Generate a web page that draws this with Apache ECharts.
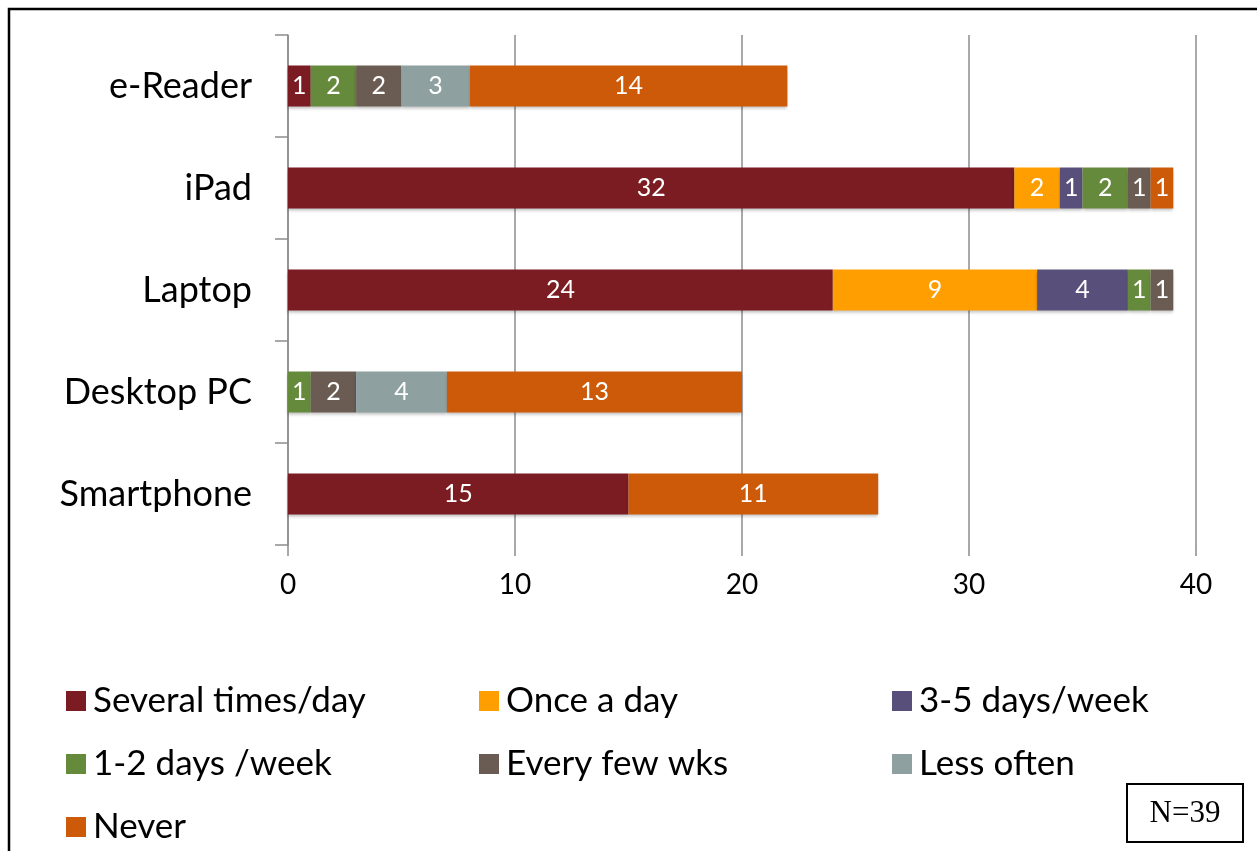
<!DOCTYPE html>
<html>
<head>
<meta charset="utf-8">
<script src="https://cdn.jsdelivr.net/npm/echarts@6/dist/echarts.min.js"></script>
<style>
  html, body { margin: 0; padding: 0; background: #fff; }
  #chart { width: 1257px; height: 851px; }
</style>
</head>
<body>
<div id="chart"></div>
<script>
const devices = ['e-Reader', 'iPad', 'Laptop', 'Desktop PC', 'Smartphone']

const severalTimesDay = [1, 32, 24, 0, 15]
const onceADay = [0, 2, 9, 0, 0]
const days35Week = [0, 1, 4, 0, 0]
const days12Week = [2, 2, 1, 1, 0]
const everyFewWks = [2, 1, 1, 2, 0]
const lessOften = [3, 0, 0, 4, 0]
const never = [14, 1, 0, 13, 11]

const xTicks = [0, 10, 20, 30, 40]

// legend grid: 3 columns, 3 rows (Excel order, row by row)
const legendCols = [61, 474, 887]
const legendRows = [676, 739, 802]

const seriesDefs = [
  { name: 'Several times/day', data: severalTimesDay, color: '#7a1c22' },
  { name: 'Once a day', data: onceADay, color: '#ff9e00' },
  { name: '3-5 days/week', data: days35Week, color: '#58507a' },
  { name: '1-2 days /week', data: days12Week, color: '#668a3c' },
  { name: 'Every few wks', data: everyFewWks, color: '#6a5c52' },
  { name: 'Less often', data: lessOften, color: '#8ea0a0' },
  { name: 'Never', data: never, color: '#cc5a08' }
]

const font = 'Lato, "Open Sans", sans-serif'

const chart = echarts.init(document.getElementById('chart'))

const legends = seriesDefs.map((s, i) => ({
  orient: 'horizontal',
  left: legendCols[i % 3],
  top: legendRows[Math.floor(i / 3)],
  itemWidth: 20,
  itemHeight: 20,
  icon: 'rect',
  selectedMode: false,
  data: [s.name],
  textStyle: { fontFamily: font, fontSize: 35, color: '#000', lineHeight: 40, padding: [0, 0, 0, 2] }
}))

const option = {
  animation: false,
  backgroundColor: '#fff',
  grid: { left: 288, right: 61, top: 35, bottom: 306 },
  legend: legends,
  xAxis: {
    type: 'value',
    min: xTicks[0],
    max: xTicks[xTicks.length - 1],
    interval: 10,
    axisLine: { show: false },
    axisTick: { show: true, length: 11, lineStyle: { color: '#8c8c8c', width: 1.5 } },
    splitLine: { show: true, lineStyle: { color: '#8c8c8c', width: 1.5 } },
    axisLabel: { fontFamily: font, fontSize: 28, color: '#000', margin: 26 }
  },
  yAxis: {
    type: 'category',
    inverse: true,
    data: devices,
    axisLine: { show: true, lineStyle: { color: '#8c8c8c', width: 1.5 } },
    axisTick: { show: true, length: 13, lineStyle: { color: '#8c8c8c', width: 1.5 } },
    axisLabel: { fontFamily: font, fontSize: 36, color: '#000', margin: 36 }
  },
  series: seriesDefs.map(s => ({
    name: s.name,
    type: 'bar',
    stack: 'total',
    barWidth: 41,
    data: s.data.map(v => (v === 0 ? null : v)),
    itemStyle: {
      color: s.color,
      shadowColor: 'rgba(0,0,0,0.25)',
      shadowBlur: 3,
      shadowOffsetY: 2
    },
    label: {
      show: true,
      position: 'inside',
      color: '#fff',
      fontFamily: font,
      fontSize: 25
    }
  })),
  graphic: [
    {
      type: 'rect',
      shape: { x: 9, y: 9, width: 1400, height: 1000 },
      style: { fill: 'none', stroke: '#000', lineWidth: 2.5 },
      silent: true
    },
    {
      type: 'rect',
      shape: { x: 1127, y: 784, width: 116, height: 58 },
      style: { fill: '#fff', stroke: '#000', lineWidth: 2 },
      silent: true
    },
    {
      type: 'text',
      x: 1185,
      y: 814,
      style: {
        text: 'N=39',
        fontFamily: '"Liberation Serif", "DejaVu Serif", serif',
        fontSize: 31,
        fill: '#000',
        align: 'center',
        verticalAlign: 'middle'
      },
      silent: true
    }
  ]
}

chart.setOption(option)
window.addEventListener('resize', () => chart.resize())
</script>
</body>
</html>
